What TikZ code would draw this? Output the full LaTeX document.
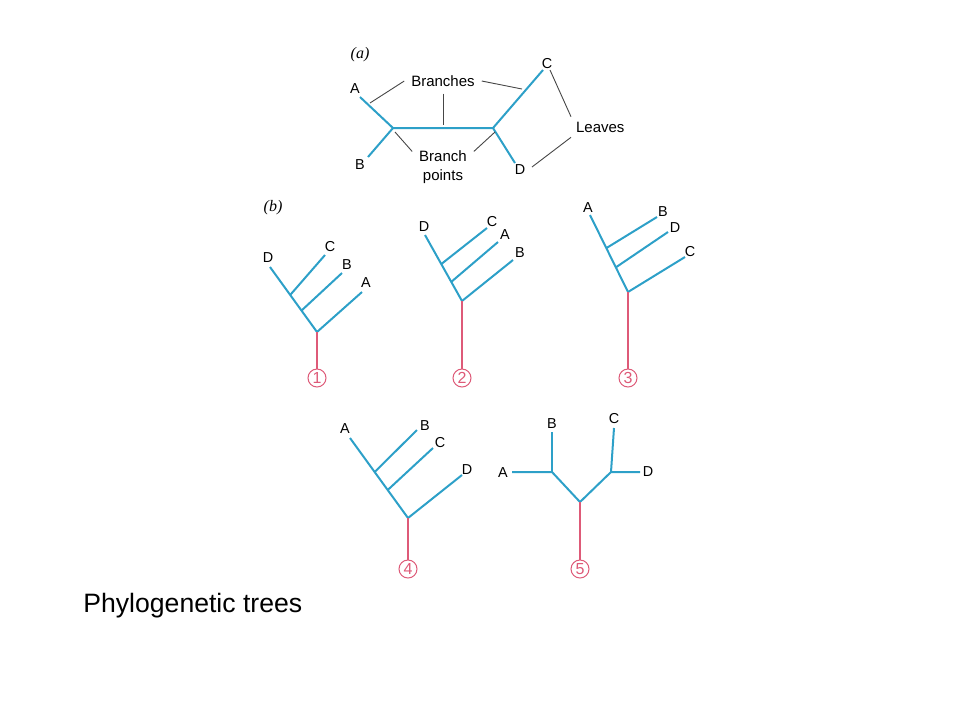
\documentclass[tikz,border=0pt]{standalone}
\usepackage{fontspec}
\setmainfont{Liberation Sans}
\newfontfamily\partfont{Liberation Serif}
\usetikzlibrary{calc, positioning}
\definecolor{branchcol}{RGB}{45,160,200}
\definecolor{rootcol}{RGB}{222,90,120}
\definecolor{leadcol}{RGB}{70,70,70}

\begin{document}
\begin{tikzpicture}[x=0.5pt,y=-0.5pt,
		branch/.style={draw=branchcol,line width=1pt},
		stem/.style={draw=rootcol,line width=0.9pt},
		leader/.style={draw=leadcol,line width=0.45pt},
		leaf/.style={inner sep=0pt,font=\fontsize{7.2}{8}\selectfont},
		note/.style={font=\fontsize{7.5}{9.5}\selectfont,align=center},
		tag/.style={circle,draw=rootcol,text=rootcol,fill=white,inner sep=0pt,minimum size=9pt,line width=0.5pt,font=\fontsize{8}{9}\selectfont},
		part/.style={font=\partfont\itshape\fontsize{8}{9}\selectfont}]
		\useasboundingbox (0,0) rectangle (960,720);
		
		% (a)
		\node[part] (pa) at (360,55) {(a)};
		\coordinate (aA) at (360,97);
		\coordinate (aB) at (368,157);
		\coordinate (aP) at (393,128);
		\coordinate (aQ) at (493,128);
		\coordinate (aC) at (543,70);
		\coordinate (aD) at (515,163);
		\draw[branch] (aA) -- (aP) -- (aQ) -- (aC);
		\draw[branch] (aB) -- (aP);
		\draw[branch] (aQ) -- (aD);
		\node[leaf] (laA) at (355,89) {A};
		\node[leaf] (laB) at (360,165) {B};
		\node[leaf] (laC) at (547,64) {C};
		\node[leaf] (laD) at (520,170) {D};
		
		\node[note] (branches) at (443,81) {Branches};
		\node[note,anchor=west] (leaves) at (569,127) {Leaves};
		\node[note] (bpts) at (443,167) {Branch\\points};
		\coordinate (kA) at (370,103);
		\coordinate (kM) at (443,125);
		\coordinate (kC) at (522,89);
		\draw[leader] (branches.west) -- (kA);
		\draw[leader] (branches.south) -- (kM);
		\draw[leader] (branches.east) -- (kC);
		\coordinate (kLC) at (550,70);
		\coordinate (kLD) at (532,167);
		\draw[leader] ([shift={(1pt,-1pt)}]leaves.north west) -- (kLC);
		\draw[leader] ([shift={(1pt,1pt)}]leaves.south west) -- (kLD);
		\coordinate (kP) at (395,132);
		\coordinate (kQ) at (495,132);
		\draw[leader] ([yshift=-4pt]bpts.north west) -- (kP);
		\draw[leader] ([yshift=-4pt]bpts.north east) -- (kQ);
		
		% (b)
		\node[part] (pb) at (273,208) {(b)};
		
		% tree 1
		\coordinate (r1) at (317,332);
		\coordinate (e1D) at (270,267);
		\coordinate (j1C) at ($(r1)!0.57!(e1D)$);
		\coordinate (j1B) at ($(r1)!0.33!(e1D)$);
		\coordinate (e1C) at (325,255);
		\coordinate (e1B) at (342,273);
		\coordinate (e1A) at (362,292);
		\draw[branch] (r1) -- (e1D);
		\draw[branch] (j1C) -- (e1C);
		\draw[branch] (j1B) -- (e1B);
		\draw[branch] (r1) -- (e1A);
		\node[leaf] (l1D) at (268,258) {D};
		\node[leaf] (l1C) at (330,247) {C};
		\node[leaf] (l1B) at (347,265) {B};
		\node[leaf] (l1A) at (366,283) {A};
		\node[tag] (t1) at (317,378) {1};
		\draw[stem] (r1) -- (t1.north);
		
		% tree 2
		\coordinate (r2) at (462,301);
		\coordinate (e2D) at (425,235);
		\coordinate (j2C) at ($(r2)!0.56!(e2D)$);
		\coordinate (j2A) at ($(r2)!0.29!(e2D)$);
		\coordinate (e2C) at (487,228);
		\coordinate (e2A) at (498,242);
		\coordinate (e2B) at (513,260);
		\draw[branch] (r2) -- (e2D);
		\draw[branch] (j2C) -- (e2C);
		\draw[branch] (j2A) -- (e2A);
		\draw[branch] (r2) -- (e2B);
		\node[leaf] (l2D) at (424,227) {D};
		\node[leaf] (l2C) at (492,222) {C};
		\node[leaf] (l2A) at (505,235) {A};
		\node[leaf] (l2B) at (520,253) {B};
		\node[tag] (t2) at (462,378) {2};
		\draw[stem] (r2) -- (t2.north);
		
		% tree 3
		\coordinate (r3) at (628,292);
		\coordinate (e3A) at (590,215);
		\coordinate (j3B) at ($(r3)!0.57!(e3A)$);
		\coordinate (j3D) at ($(r3)!0.32!(e3A)$);
		\coordinate (e3B) at (657,217);
		\coordinate (e3D) at (668,232);
		\coordinate (e3C) at (685,257);
		\draw[branch] (r3) -- (e3A);
		\draw[branch] (j3B) -- (e3B);
		\draw[branch] (j3D) -- (e3D);
		\draw[branch] (r3) -- (e3C);
		\node[leaf] (l3A) at (588,208) {A};
		\node[leaf] (l3B) at (663,212) {B};
		\node[leaf] (l3D) at (675,228) {D};
		\node[leaf] (l3C) at (690,252) {C};
		\node[tag] (t3) at (628,378) {3};
		\draw[stem] (r3) -- (t3.north);
		
		% tree 4
		\coordinate (r4) at (408,518);
		\coordinate (e4A) at (350,438);
		\coordinate (j4B) at ($(r4)!0.575!(e4A)$);
		\coordinate (j4C) at ($(r4)!0.35!(e4A)$);
		\coordinate (e4B) at (417,430);
		\coordinate (e4C) at (433,448);
		\coordinate (e4D) at (462,475);
		\draw[branch] (r4) -- (e4A);
		\draw[branch] (j4B) -- (e4B);
		\draw[branch] (j4C) -- (e4C);
		\draw[branch] (r4) -- (e4D);
		\node[leaf] (l4A) at (345,429) {A};
		\node[leaf] (l4B) at (425,426) {B};
		\node[leaf] (l4C) at (440,443) {C};
		\node[leaf] (l4D) at (467,470) {D};
		\node[tag] (t4) at (408,569) {4};
		\draw[stem] (r4) -- (t4.north);
		
		% tree 5
		\coordinate (r5) at (580,502);
		\coordinate (j5L) at (552,472);
		\coordinate (j5R) at (611,472);
		\coordinate (e5A) at (512,472);
		\coordinate (e5B) at (552,432);
		\coordinate (e5C) at (614,428);
		\coordinate (e5D) at (640,472);
		\draw[branch] (e5A) -- (j5L) -- (r5) -- (j5R) -- (e5D);
		\draw[branch] (j5L) -- (e5B);
		\draw[branch] (j5R) -- (e5C);
		\node[leaf] (l5A) at (503,473) {A};
		\node[leaf] (l5B) at (552,424) {B};
		\node[leaf] (l5C) at (614,419) {C};
		\node[leaf] (l5D) at (648,472) {D};
		\node[tag] (t5) at (580,569) {5};
		\draw[stem] (r5) -- (t5.north);
		
		\node[anchor=base west,inner sep=0pt,font=\fontsize{13.3}{15}\selectfont] (title) at (83,612) {Phylogenetic trees};
		
		\end{tikzpicture}
\end{document}
